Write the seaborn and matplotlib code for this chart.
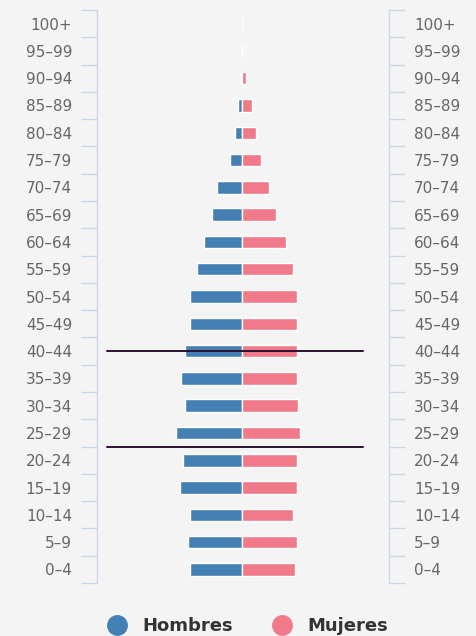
import pandas as pd
import matplotlib.pyplot as plt
import seaborn as sns
from matplotlib.lines import Line2D

# Grupos de edad (de arriba hacia abajo)
grupos = ["100+", "95–99", "90–94", "85–89", "80–84", "75–79", "70–74",
          "65–69", "60–64", "55–59", "50–54", "45–49", "40–44", "35–39",
          "30–34", "25–29", "20–24", "15–19", "10–14", "5–9", "0–4"]

# Porcentaje de la población por grupo
hombres = [0.0, 0.02, 0.05, 0.28, 0.47, 0.78, 1.55, 1.87, 2.42, 2.83, 3.27,
           3.27, 3.61, 3.82, 3.61, 4.13, 3.69, 3.92, 3.27, 3.38, 3.27]
mujeres = [0.0, 0.03, 0.25, 0.63, 0.86, 1.17, 1.70, 2.14, 2.77, 3.21, 3.43,
           3.43, 3.43, 3.43, 3.52, 3.65, 3.43, 3.43, 3.21, 3.43, 3.33]

azul = "#4580b4"
rosa = "#f07a89"
eje = "#ccd6eb"
fondo = "#f4f4f4"

df = pd.DataFrame({
    "grupo": grupos + grupos,
    "valor": [-h for h in hombres] + mujeres,
    "sexo": ["Hombres"] * len(grupos) + ["Mujeres"] * len(grupos),
})

sns.set_style("white")
plt.rcParams["font.family"] = ["DejaVu Sans"]

fig = plt.figure(figsize=(4.77, 6.36), dpi=100, facecolor=fondo)
ax = fig.add_axes([0.2034, 0.0833, 0.6122, 0.901])
ax.set_facecolor(fondo)

sns.barplot(data=df, x="valor", y="grupo", hue="sexo", order=grupos,
            palette={"Hombres": azul, "Mujeres": rosa}, dodge=False, saturation=1,
            width=0.46, edgecolor="white", linewidth=1, legend=False, ax=ax)

ax.set_xlim(-9.12, 9.25)
ax.set_ylim(len(grupos) - 0.5, -0.5)
ax.set_xlabel("")
ax.set_ylabel("")
ax.set_xticks([])

# etiquetas al centro, marcas en los bordes de cada grupo
ax.set_yticks(range(len(grupos)), minor=True)
ax.set_yticklabels(grupos, minor=True)
ax.set_yticks([i - 0.5 for i in range(len(grupos) + 1)])
ax.set_yticklabels([])
ax.tick_params(axis="y", which="major", length=11.5, width=1, color=eje,
               left=True, right=True)
ax.tick_params(axis="y", which="minor", length=0, pad=18, labelsize=11,
               labelcolor="#666666", left=True, right=True,
               labelleft=True, labelright=True)

for s in ["top", "bottom"]:
    ax.spines[s].set_visible(False)
for s in ["left", "right"]:
    ax.spines[s].set_color(eje)
    ax.spines[s].set_linewidth(1)

# líneas de referencia
ax.axhline(grupos.index("40–44"), xmin=0.034, xmax=0.911, color="#2a1030", lw=1.4)
ax.axhline(grupos.index("25–29") + 0.5, xmin=0.034, xmax=0.911, color="#2a1030", lw=1.4)

handles = [Line2D([], [], marker="o", ls="", markersize=14, color=azul, label="Hombres"),
           Line2D([], [], marker="o", ls="", markersize=14, color=rosa, label="Mujeres")]
leg = fig.legend(handles=handles, loc="center", bbox_to_anchor=(0.51, 0.016), ncol=2,
                 frameon=False, handletextpad=0.4, columnspacing=1.7,
                 prop={"weight": "bold", "size": 13})
for t in leg.get_texts():
    t.set_color("#333333")

fig.savefig("out.png", dpi=100, facecolor=fondo)
